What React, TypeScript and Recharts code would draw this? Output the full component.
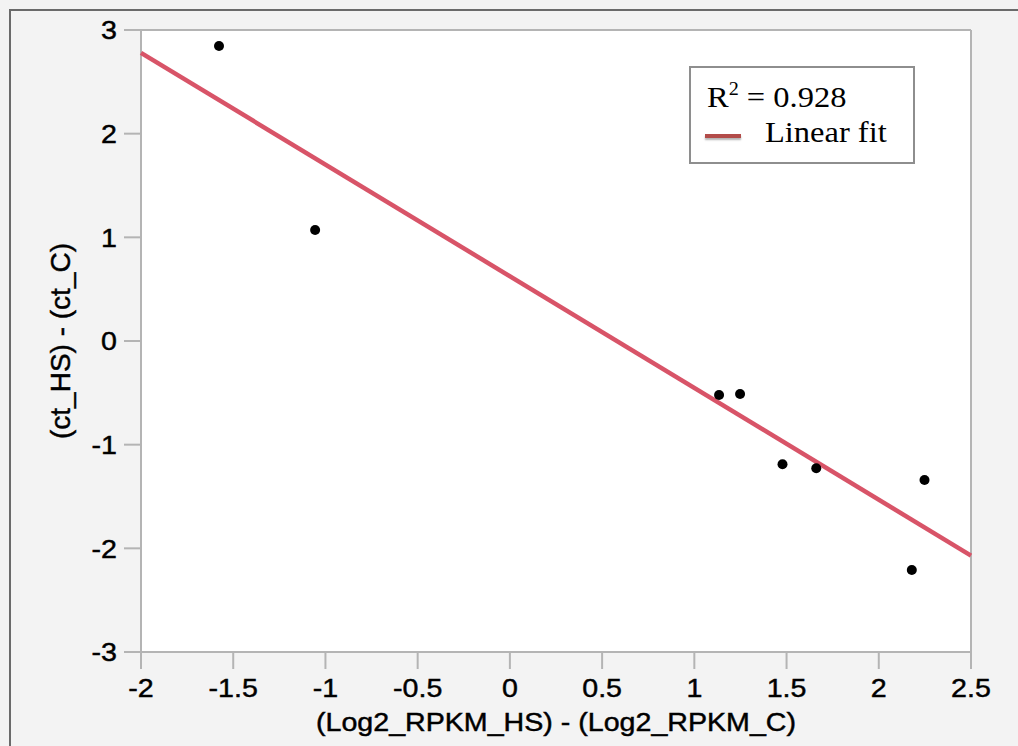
import { CartesianGrid, ReferenceLine, Scatter, ScatterChart, XAxis, YAxis } from "recharts";

const log2Diff = [-1.577, -1.056, 1.134, 1.248, 1.478, 1.661, 2.248, 2.179];
const ctDiff = [2.846, 1.071, -0.521, -0.511, -1.189, -1.228, -1.341, -2.209];

// linear fit endpoints
const fitX = [-2, 2.5];
const fitY = [2.78, -2.07];

const xTicks = [-2, -1.5, -1, -0.5, 0, 0.5, 1, 1.5, 2, 2.5];
const yTicks = [-3, -2, -1, 0, 1, 2, 3];

const points = log2Diff.map((x, i) => ({ x, y: ctDiff[i] }));
const fit = fitX.map((x, i) => ({ x, y: fitY[i] }));

const axisGray = "#b4b4b4";
const sans = "'Liberation Sans', Arial, sans-serif";
const serif = "'Liberation Serif', 'Times New Roman', serif";
// mac-style text is a touch heavier than Liberation's regular weight
const ink = { fill: "#000", stroke: "#000", strokeWidth: 0.45 };

const Dot = (p: any) => <circle cx={p.cx} cy={p.cy} fill="#000" r={5} />;
const NoDot = () => <g />;

// source image is stretched a bit horizontally, so text gets a scaleX
function XTick({ x, y, payload }: any) {
  return (
    <text {...ink} dy="0.71em" fontFamily={sans} fontSize={26} textAnchor="middle" transform={`translate(${x},${y}) scale(1.1,1)`}>
      {payload.value}
    </text>
  );
}

function YTick({ x, y, payload }: any) {
  return (
    <text {...ink} dy="0.355em" fontFamily={sans} fontSize={26} textAnchor="end" transform={`translate(${x},${y}) scale(1.1,1)`}>
      {payload.value}
    </text>
  );
}

function XTitle({ viewBox }: any) {
  const cx = viewBox.x + viewBox.width / 2;
  return (
    <text
      {...ink}
      fontFamily={sans}
      fontSize={26}
      textAnchor="middle"
      transform={`translate(${cx},${viewBox.y + 79}) scale(1.1,1)`}
    >
      (Log2_RPKM_HS) - (Log2_RPKM_C)
    </text>
  );
}

function YTitle({ viewBox }: any) {
  const cx = viewBox.x + 19;
  const cy = viewBox.y + viewBox.height / 2;
  return (
    <text
      {...ink}
      dominantBaseline="central"
      fontFamily={sans}
      fontSize={28}
      textAnchor="middle"
      transform={`rotate(-90 ${cx} ${cy})`}
      x={cx}
      y={cy}
    >
      (ct_HS) - (ct_C)
    </text>
  );
}

export default function App() {
  return (
    <div style={{ background: "#f3f3f3", height: 746, left: 0, overflow: "hidden", position: "absolute", top: 0, width: 1018 }}>
      <div
        style={{
          borderLeft: "2px solid #6a6a6a",
          borderTop: "2px solid #6a6a6a",
          height: 800,
          left: 9,
          position: "absolute",
          top: 9,
          width: 1100,
        }}
      />
      <div style={{ left: 0, position: "absolute", top: 0 }}>
        <ScatterChart height={746} margin={{ bottom: 14, left: 41, right: 47, top: 30 }} width={1018}>
          <CartesianGrid fill="#fff" horizontal={false} stroke="none" vertical={false} />
          <XAxis
            axisLine={{ stroke: axisGray, strokeWidth: 2 }}
            dataKey="x"
            domain={[-2, 2.5]}
            height={80}
            label={<XTitle />}
            tick={<XTick />}
            tickLine={{ stroke: axisGray, strokeWidth: 2 }}
            tickMargin={10}
            tickSize={17}
            ticks={xTicks}
            type="number"
          />
          <YAxis
            axisLine={{ stroke: axisGray, strokeWidth: 2 }}
            dataKey="y"
            domain={[-3, 3]}
            label={<YTitle />}
            tick={<YTick />}
            tickLine={{ stroke: axisGray, strokeWidth: 2 }}
            tickMargin={7}
            tickSize={17}
            ticks={yTicks}
            type="number"
            width={100}
          />
          <ReferenceLine stroke={axisGray} strokeWidth={2} y={3} />
          <ReferenceLine stroke={axisGray} strokeWidth={2} x={2.5} />
          <Scatter
            data={fit}
            isAnimationActive={false}
            line={{ stroke: "#d85468", strokeWidth: 4.5 }}
            lineType="joint"
            shape={<NoDot />}
          />
          <Scatter data={points} isAnimationActive={false} shape={<Dot />} />
        </ScatterChart>
      </div>
      <div
        style={{
          background: "#fff",
          border: "2px solid #8e8e8e",
          boxSizing: "border-box",
          fontFamily: serif,
          fontSize: 29,
          height: 98,
          left: 689,
          lineHeight: "29px",
          position: "absolute",
          top: 66,
          width: 226,
        }}
      >
        <div style={{ left: 16, position: "absolute", top: 15, transform: "scaleX(1.12)", transformOrigin: "left", whiteSpace: "nowrap" }}>
          R<span style={{ fontSize: 18, position: "relative", top: -12 }}>2</span> = 0.928
        </div>
        <div
          style={{
            background: "#b24c49",
            boxShadow: "0 2px 2px rgba(0,0,0,0.3)",
            height: 4,
            left: 14,
            position: "absolute",
            top: 66,
            width: 36,
          }}
        />
        <div style={{ left: 74, position: "absolute", top: 50, transform: "scaleX(1.12)", transformOrigin: "left", whiteSpace: "nowrap" }}>
          Linear fit
        </div>
      </div>
    </div>
  );
}
